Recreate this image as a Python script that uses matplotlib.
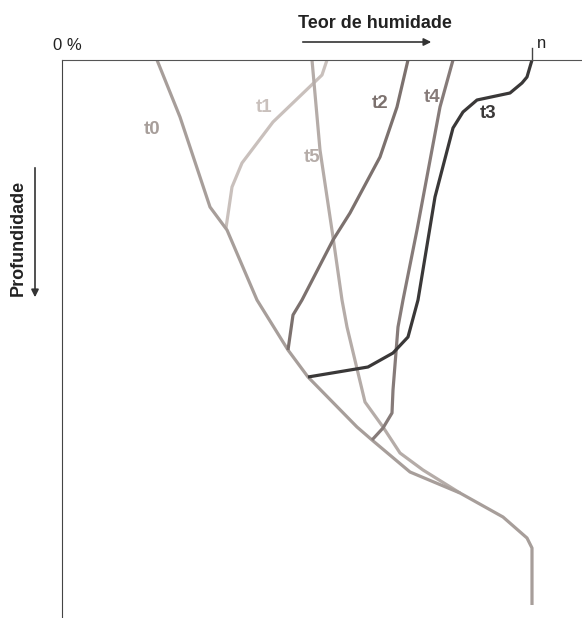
import numpy as np
import matplotlib
matplotlib.use("Agg")
from matplotlib import pyplot as plt

# humidity (x, pixels from 0 %) vs depth (pixels below surface), n = 470
t0_x = [95, 118, 148, 165, 195, 226, 246, 295, 310, 348, 398, 441, 465, 470, 470]
t0_d = [0, 57, 147, 170, 240, 290, 317, 367, 380, 412, 433, 457, 478, 488, 545]
t1_x = [265, 260, 211, 180, 170, 164]
t1_d = [0, 15, 62, 103, 127, 168]
t2_x = [346, 335, 318, 288, 271, 240, 231, 226]
t2_d = [0, 47, 97, 153, 180, 240, 255, 290]
t3_x = [470, 465, 460, 448, 415, 401, 391, 373, 356, 346, 331, 306, 246]
t3_d = [0, 17, 23, 33, 40, 52, 68, 137, 240, 277, 293, 307, 317]
t4_x = [391, 378, 355, 341, 336, 331, 330, 321, 310]
t4_d = [0, 47, 170, 240, 267, 330, 353, 368, 380]
t5_x = [250, 258, 271, 280, 285, 303, 321, 338, 361, 398]
t5_d = [0, 90, 177, 240, 267, 342, 367, 393, 410, 433]

labels = ["t0", "t1", "t5", "t2", "t4", "t3"]
label_x = [90, 202, 250, 318, 370, 426]
label_d = [70, 48, 97, 43, 37, 53]

FONT = ["Liberation Sans Narrow", "Liberation Sans", "DejaVu Sans"]
plt.rcParams['font.family'] = FONT

fig = plt.figure(figsize=(5.82, 6.18), dpi=100)
ax = fig.add_axes([62 / 582, 0, 520 / 582, 558 / 618])
ax.set_xlim(0, 520)
ax.set_ylim(558, 0)

cols = {"t0": "#a79e9a", "t1": "#c9c0bc", "t2": "#7c716e", "t3": "#3a3838",
        "t4": "#867b79", "t5": "#b5aca8"}
series = {"t0": (t0_x, t0_d), "t1": (t1_x, t1_d), "t5": (t5_x, t5_d),
          "t2": (t2_x, t2_d), "t4": (t4_x, t4_d), "t3": (t3_x, t3_d)}
for name in ["t1", "t5", "t0", "t2", "t4", "t3"]:
    xs, ds = series[name]
    ax.plot(xs, ds, color=cols[name], lw=2.3, solid_joinstyle='round',
            solid_capstyle='butt')

for lab, lx, ld in zip(labels, label_x, label_d):
    ax.text(lx, ld, lab, color=cols[lab], fontsize=13.5, fontweight='bold',
            ha='center', va='center')

for s in ["right", "bottom"]:
    ax.spines[s].set_visible(False)
ax.spines["left"].set_color("#444444")
ax.spines["top"].set_color("#555555")
ax.set_xticks([])
ax.set_yticks([])

# n tick
ax.plot([470, 470], [-12, 0], color="#444444", lw=1, clip_on=False)

def fx(px):
    return px / 582

def fy(py):
    return 1 - py / 618

fig.text(fx(53), fy(45), "0 %", fontsize=12, ha='left', va='center', color="#222222")
fig.text(fx(537), fy(43), "n", fontsize=12, ha='left', va='center', color="#222222")
fig.text(fx(375), fy(23), "Teor de humidade", fontsize=13, fontweight='bold',
         ha='center', va='center', color="#222222")
ax.annotate("", xy=(fx(434), fy(42)), xytext=(fx(300), fy(42)),
            xycoords='figure fraction', textcoords='figure fraction',
            arrowprops=dict(arrowstyle='-|>', color="#333333", lw=1.2,
                            mutation_scale=11))
fig.text(fx(18), fy(238), "Profundidade", fontsize=13, fontweight='bold',
         rotation=90, ha='center', va='center', color="#222222")
ax.annotate("", xy=(fx(35), fy(300)), xytext=(fx(35), fy(165)),
            xycoords='figure fraction', textcoords='figure fraction',
            arrowprops=dict(arrowstyle='-|>', color="#333333", lw=1.2,
                            mutation_scale=11))

fig.savefig("out.png", dpi=100)
